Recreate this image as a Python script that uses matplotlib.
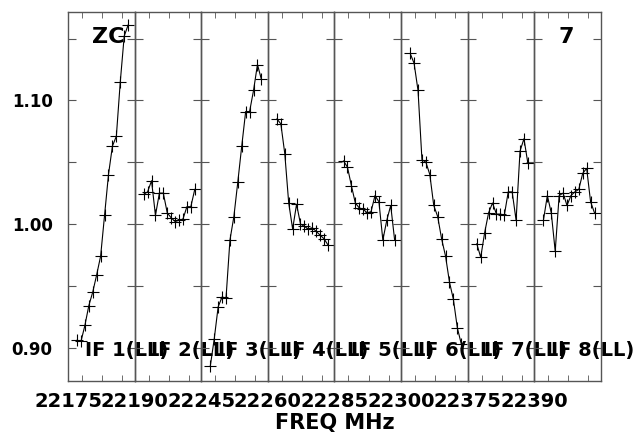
import numpy as np
import matplotlib.pyplot as plt

# amplitude per channel, one list per IF (LL)
if1 = [0.906, 0.905, 0.918, 0.934, 0.945, 0.959, 0.974, 1.007, 1.040, 1.063, 1.071, 1.115, 1.152, 1.161]
if2 = [1.024, 1.026, 1.035, 1.007, 1.025, 1.025, 1.009, 1.005, 1.002, 1.003, 1.004, 1.014, 1.014, 1.028]
if3 = [0.885, 0.907, 0.933, 0.941, 0.940, 0.987, 1.006, 1.034, 1.063, 1.091, 1.091, 1.108, 1.129, 1.117]
if4 = [1.085, 1.081, 1.057, 1.017, 0.996, 1.016, 1.000, 0.998, 0.996, 0.997, 0.994, 0.991, 0.988, 0.983]
if5 = [1.051, 1.046, 1.031, 1.017, 1.013, 1.012, 1.009, 1.010, 1.023, 1.018, 0.987, 1.003, 1.015, 0.987]
if6 = [1.138, 1.130, 1.108, 1.052, 1.050, 1.040, 1.015, 1.006, 0.988, 0.974, 0.953, 0.939, 0.916, 0.903]
if7 = [0.984, 0.973, 0.993, 1.009, 1.017, 1.008, 1.008, 1.007, 1.026, 1.026, 1.003, 1.059, 1.069, 1.049]
if8 = [1.003, 1.023, 1.009, 0.978, 1.023, 1.025, 1.015, 1.023, 1.026, 1.028, 1.041, 1.045, 1.018, 1.009]

panels = [if1, if2, if3, if4, if5, if6, if7, if8]
if_names = ["IF 1(LL)", "IF 2(LL)", "IF 3(LL)", "IF 4(LL)",
            "IF 5(LL)", "IF 6(LL)", "IF 7(LL)", "IF 8(LL)"]
freq_labels = ["22175", "22190", "22245", "22260", "22285", "22300", "22375", "22390"]
y_ticks = [0.90, 0.95, 1.00, 1.05, 1.10, 1.15]
y_labels = ["0.90", "", "1.00", "", "1.10", ""]

W, H = 638, 434
fig = plt.figure(figsize=(W / 100, H / 100), dpi=100)

left, right = 68 / W, 601 / W
bottom, top = 1 - 381 / H, 1 - 12 / H
w = (right - left) / 8
spine_col = "#555555"

x0, x1 = -1.3, 15.65
minor_x = np.arange(x0 + 3.56, x1, 5.09)

for i, vals in enumerate(panels):
    ax = fig.add_axes([left + i * w, bottom, w, top - bottom])
    ax.patch.set_visible(False)
    ch = np.arange(1, len(vals) + 1)
    ax.plot(ch, vals, color="black", lw=0.8, marker="+", ms=8, mew=0.8)
    ax.set_xlim(x0, x1)
    ax.set_ylim(0.873, 1.1715)

    for s in ax.spines.values():
        s.set_color(spine_col)
        s.set_linewidth(1.0)

    ax.set_xticks([x0], [freq_labels[i]])
    ax.set_xticks(minor_x, minor=True)
    ax.tick_params(axis="x", which="both", direction="in", top=True, bottom=True,
                   color=spine_col, length=4, pad=8, labelsize=14)
    ax.tick_params(axis="x", which="major", length=0)
    for lab in ax.get_xticklabels():
        lab.set_fontweight("bold")

    ax.set_yticks(y_ticks, y_labels)
    ax.tick_params(axis="y", direction="in", left=True, right=True, color=spine_col,
                   length=6, pad=11, labelsize=12, labelleft=(i == 0))
    for lab in ax.get_yticklabels():
        lab.set_fontweight("bold")

    ax.text(0.25, 0.084, if_names[i], transform=ax.transAxes, ha="left", va="center",
            fontsize=14, fontweight="bold", clip_on=False)

    if i == 0:
        ax.text(0.6, 0.933, "ZC", transform=ax.transAxes, ha="center", va="center",
                fontsize=16, fontweight="bold")
    if i == 7:
        ax.text(0.48, 0.933, "7", transform=ax.transAxes, ha="center", va="center",
                fontsize=16, fontweight="bold")

fig.text((left + right) / 2, 1 - 423 / H, "FREQ MHz", ha="center", va="center",
         fontsize=15, fontweight="bold")

fig.savefig("out.png", dpi=100)
